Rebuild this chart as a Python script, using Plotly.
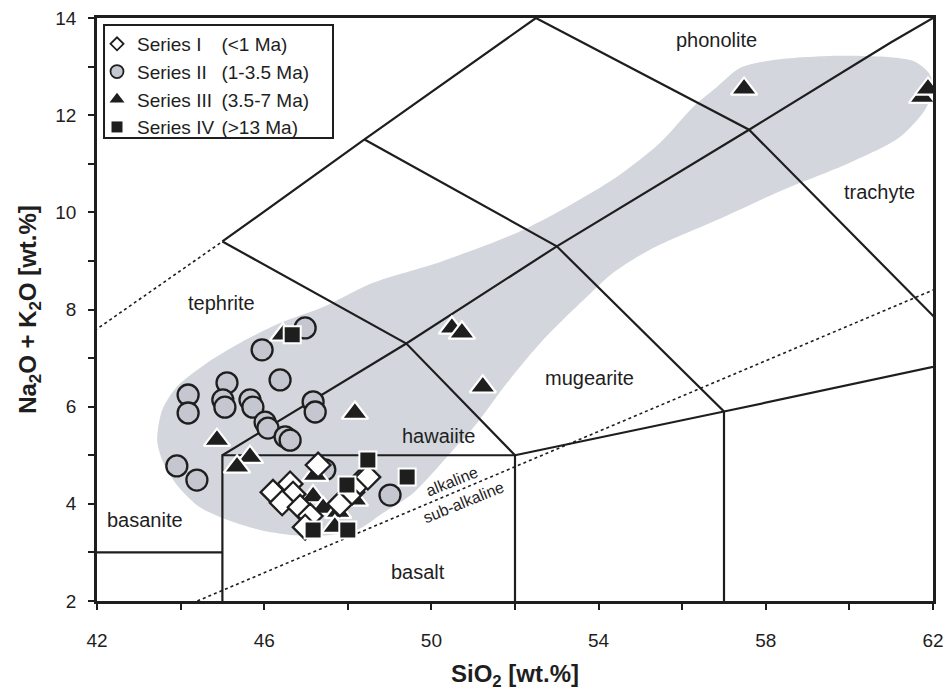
import plotly.graph_objects as go

# ---- Sample compositions (SiO2 vs Na2O+K2O, wt.%) ----
s1_sio2 = [46.21, 46.62, 46.69, 46.43, 46.86, 47.10, 46.98, 47.29, 47.81, 48.10, 48.29, 48.48]
s1_alk = [4.24, 4.41, 4.20, 4.02, 3.93, 3.75, 3.52, 4.80, 4.00, 4.24, 4.45, 4.55]

s2_sio2 = [43.91, 44.39, 46.98, 45.95, 46.38, 45.11, 45.01, 45.06, 44.18, 44.18,
           45.66, 45.73, 46.02, 46.09, 46.50, 46.62, 47.17, 47.22, 49.01, 47.45]
s2_alk = [4.78, 4.49, 7.62, 7.17, 6.55, 6.49, 6.14, 5.99, 6.24, 5.87,
          6.14, 5.99, 5.68, 5.56, 5.38, 5.31, 6.10, 5.89, 4.18, 4.70]

s3_sio2 = [46.45, 48.17, 44.87, 45.66, 45.35, 47.22, 47.17, 47.41, 47.77, 48.17,
           47.69, 50.49, 50.73, 51.23, 57.48, 61.74, 61.88]
s3_alk = [7.48, 5.87, 5.31, 4.96, 4.76, 4.59, 4.15, 3.91, 3.83, 4.08,
          3.52, 7.62, 7.52, 6.41, 12.54, 12.37, 12.54]

s4_sio2 = [46.67, 48.48, 49.42, 47.98, 47.17, 48.00]
s4_alk = [7.48, 4.90, 4.55, 4.39, 3.46, 3.46]

series_names = ["Series I", "Series II", "Series III", "Series IV"]
series_ages = ["(<1 Ma)", "(1-3.5 Ma)", "(3.5-7 Ma)", "(>13 Ma)"]

# ---- Outline of the shaded compositional field ----
field_sio2 = [43.44, 43.56, 43.91, 44.63, 45.42, 46.38, 47.41, 48.60, 50.21, 52.05,
              53.24, 54.44, 55.47, 56.26, 56.83, 57.38, 58.22, 59.54, 60.85, 61.57,
              61.93, 61.98, 61.81, 61.21, 60.01, 58.41, 56.83, 55.23, 54.34, 53.72,
              52.67, 51.81, 51.09, 50.52, 49.56, 48.84, 48.22, 47.33, 46.62, 45.90,
              45.18, 44.46, 43.91, 43.58, 43.44]
field_alk = [5.31, 5.93, 6.41, 6.90, 7.31, 7.72, 8.05, 8.55, 8.98, 9.58,
             10.11, 10.73, 11.43, 12.17, 12.58, 12.97, 13.14, 13.22, 13.20, 13.10,
             12.83, 12.48, 12.11, 11.55, 11.02, 10.46, 9.84, 9.23, 8.75, 8.26,
             7.37, 6.49, 5.66, 5.11, 4.22, 3.81, 3.46, 3.34, 3.36, 3.46,
             3.65, 3.93, 4.39, 4.86, 5.31]

# ---- TAS classification boundaries ----
tas_solid = [
    [(42, 3), (45, 3)],
    [(45, 2), (45, 5), (52, 5), (52, 2)],
    [(45, 5), (49.4, 7.3), (53, 9.3), (57.6, 11.7), (61, 13.5), (62, 14)],
    [(45, 9.4), (49.4, 7.3), (52, 5)],
    [(45, 9.4), (48.4, 11.5), (52.5, 14)],
    [(48.4, 11.5), (53, 9.3), (57, 5.9), (57, 2)],
    [(52, 5), (57, 5.9), (63, 7)],
    [(52.5, 14), (57.6, 11.7), (63, 7)],
]
tas_dotted = [
    [(41, 7), (45, 9.4)],
    [(44.4, 2), (62, 8.4)],
]

field_labels = [
    ("phonolite", 56.83, 13.55, 0),
    ("trachyte", 60.73, 10.42, 0),
    ("tephrite", 44.99, 8.13, 0),
    ("mugearite", 53.79, 6.59, 0),
    ("hawaiite", 50.16, 5.40, 0),
    ("basanite", 43.15, 3.67, 0),
    ("basalt", 49.68, 2.60, 0),
    ("alkaline", 50.49, 4.45, -22),
    ("sub-alkaline", 50.76, 4.02, -22),
]

FONT = "Liberation Sans, Arial, sans-serif"
INK = "#1e1e1e"
CIRCLE_FILL = "#c4c7cf"


def seg_xy(segments):
    xs, ys = [], []
    for seg in segments:
        for px, py in seg:
            xs.append(px)
            ys.append(py)
        xs.append(None)
        ys.append(None)
    return xs, ys


fig = go.Figure()

fig.add_trace(go.Scatter(
    x=field_sio2, y=field_alk, mode="lines", fill="toself",
    fillcolor="#d3d6dd", line=dict(color="#d3d6dd", width=0, shape="spline", smoothing=0.8),
    showlegend=False, hoverinfo="skip"))

sx, sy = seg_xy(tas_solid)
fig.add_trace(go.Scatter(x=sx, y=sy, mode="lines", line=dict(color=INK, width=2.2),
                         showlegend=False, hoverinfo="skip"))
dx, dy = seg_xy(tas_dotted)
fig.add_trace(go.Scatter(x=dx, y=dy, mode="lines", line=dict(color=INK, width=1.6, dash="dot"),
                         showlegend=False, hoverinfo="skip"))

# data markers (legend keys are drawn by separate, smaller proxies below)
fig.add_trace(go.Scatter(
    x=s2_sio2, y=s2_alk, mode="markers", name=series_names[1], showlegend=False,
    marker=dict(symbol="circle", size=21, color=CIRCLE_FILL, line=dict(color=INK, width=2.3))))
fig.add_trace(go.Scatter(
    x=s3_sio2, y=s3_alk, mode="markers", name=series_names[2], showlegend=False,
    marker=dict(symbol="triangle-up", size=23, color=INK, line=dict(color="white", width=2.2))))
fig.add_trace(go.Scatter(
    x=s1_sio2, y=s1_alk, mode="markers", name=series_names[0], showlegend=False,
    marker=dict(symbol="diamond", size=19, color="white", line=dict(color=INK, width=2.3))))
fig.add_trace(go.Scatter(
    x=s4_sio2, y=s4_alk, mode="markers", name=series_names[3], showlegend=False,
    marker=dict(symbol="square", size=17, color=INK, line=dict(color="white", width=2))))

legend_markers = [
    dict(symbol="diamond", size=10, color="white", line=dict(color=INK, width=1.8)),
    dict(symbol="circle", size=13, color=CIRCLE_FILL, line=dict(color=INK, width=1.8)),
    dict(symbol="triangle-up", size=13, color=INK, line=dict(width=0)),
    dict(symbol="square", size=11, color=INK, line=dict(width=0)),
]
for i, (name, mk) in enumerate(zip(series_names, legend_markers)):
    fig.add_trace(go.Scatter(x=[None], y=[None], mode="markers", name=name,
                             legend="legend", legendrank=i + 1, marker=mk, hoverinfo="skip"))

# second legend column with the age ranges
for i, age in enumerate(series_ages):
    fig.add_trace(go.Scatter(
        x=[None], y=[None], mode="markers", name=age, legend="legend2", legendrank=i + 1,
        marker=dict(color="rgba(0,0,0,0)", size=1), hoverinfo="skip"))

for text, lx, ly, ang in field_labels:
    fig.add_annotation(x=lx, y=ly, text=text, showarrow=False, textangle=ang,
                       font=dict(family=FONT, size=20 if ang == 0 else 16, color=INK))

fig.add_shape(type="rect", xref="paper", yref="paper", x0=0.0084, x1=0.2823, y0=0.794, y1=0.988,
              line=dict(color=INK, width=2), fillcolor="white", layer="above")

legend_style = dict(xanchor="left", yanchor="top", bgcolor="rgba(0,0,0,0)",
                    font=dict(family=FONT, size=19, color=INK), itemsizing="trace",
                    tracegroupgap=0, borderwidth=0)

fig.update_layout(
    width=947, height=691,
    margin=dict(l=97, r=14, t=18, b=90),
    paper_bgcolor="white", plot_bgcolor="white",
    font=dict(family=FONT, color=INK),
    legend=dict(x=0.0, y=0.988, **legend_style),
    legend2=dict(x=0.101, y=0.988, **legend_style),
    xaxis=dict(range=[42, 62], tick0=42, dtick=4, automargin=False,
               ticks="outside", ticklen=6, tickwidth=2, tickcolor=INK,
               minor=dict(dtick=2, ticks="outside", ticklen=6, tickwidth=2, tickcolor=INK),
               showline=True, linewidth=2.5, linecolor=INK, mirror=True,
               showgrid=False, zeroline=False, ticklabelstandoff=14,
               tickfont=dict(size=19, color=INK),
               title=dict(text="<b>SiO<sub>2</sub> [wt.%]</b>", font=dict(size=24, color=INK), standoff=20)),
    yaxis=dict(range=[2, 14], tick0=2, dtick=2, automargin=False,
               ticks="outside", ticklen=6, tickwidth=2, tickcolor=INK,
               minor=dict(dtick=1, ticks="outside", ticklen=6, tickwidth=2, tickcolor=INK),
               showline=True, linewidth=2.5, linecolor=INK, mirror=True,
               showgrid=False, zeroline=False, ticklabelstandoff=8,
               tickfont=dict(size=19, color=INK),
               title=dict(text="<b>Na<sub>2</sub>O + K<sub>2</sub>O [wt.%]</b>",
                          font=dict(size=24, color=INK), standoff=12)),
)

fig.write_html("out.html")
